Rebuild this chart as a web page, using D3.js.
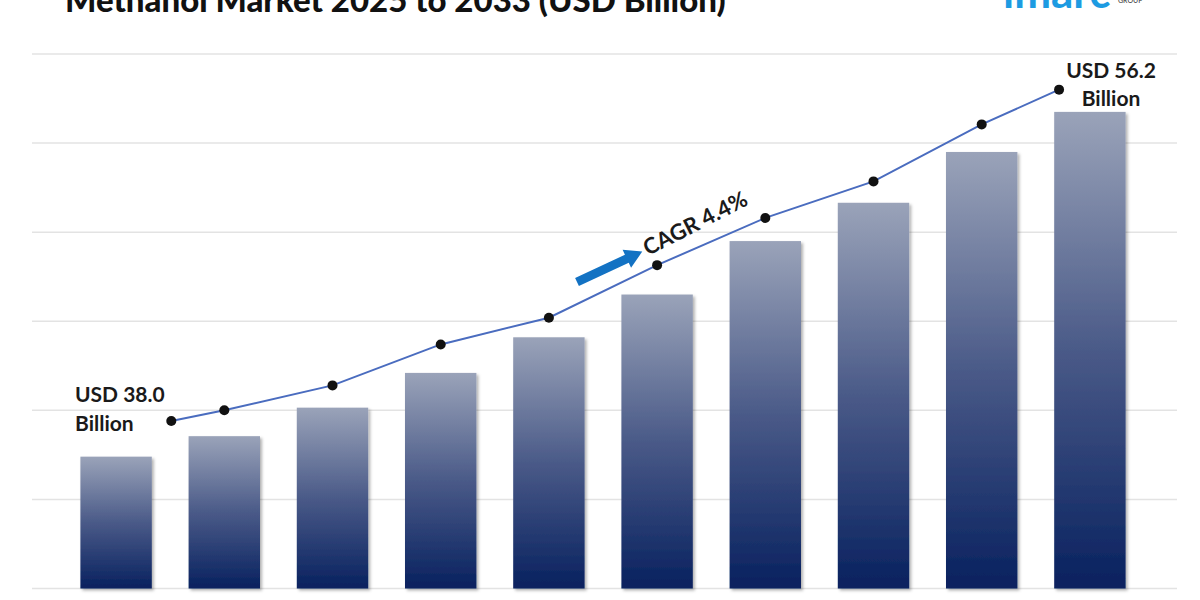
<!DOCTYPE html>
<html>
<head>
<meta charset="utf-8">
<script src="https://cdn.jsdelivr.net/npm/d3@7"></script>
<style>
  body { margin: 0; background: #fff; overflow: hidden; }
  svg { display: block; }
</style>
</head>
<body>
<div id="chart"></div>
<script>
const years = ["2024", "2025", "2026", "2027", "2028", "2029", "2030", "2031", "2032", "2033"];
const barValues = [14.8, 17.1, 20.3, 24.2, 28.2, 33.0, 39.0, 43.3, 49.0, 53.5];
const lineValues = [18.8, 20.0, 22.8, 27.4, 30.4, 36.3, 41.6, 45.7, 52.1, 56.0];
const gridTicks = [0, 10, 20, 30, 40, 50, 60];
const startText = ["USD 38.0", "Billion"];
const endText = ["USD 56.2", "Billion"];
const cagrText = "CAGR 4.4%";

const width = 1200,
  height = 600;

const svg = d3.select("#chart")
  .append("svg")
  .attr("width", width)
  .attr("height", height)
  .attr("viewBox", [0, 0, width, height]);

const defs = svg.append("defs");

const grad = defs.append("linearGradient")
  .attr("id", "barGrad")
  .attr("x1", 0).attr("y1", 0)
  .attr("x2", 0).attr("y2", 1);
grad.append("stop").attr("offset", "0%").attr("stop-color", "#9aa3b9");
grad.append("stop").attr("offset", "50%").attr("stop-color", "#4a5a88");
grad.append("stop").attr("offset", "100%").attr("stop-color", "#08215f");

defs.append("filter")
  .attr("id", "shadow")
  .attr("x", "-10%").attr("y", "-10%")
  .attr("width", "130%").attr("height", "130%")
  .append("feDropShadow")
  .attr("dx", 2).attr("dy", 2)
  .attr("stdDeviation", 1.5)
  .attr("flood-color", "#000")
  .attr("flood-opacity", 0.3);

const x = d3.scaleBand()
  .domain(years)
  .range([62, 1144])
  .paddingInner(0.34)
  .paddingOuter(0.17);

const y = d3.scaleLinear()
  .domain([0, 60])
  .range([588.5, 54]);

// gridlines
svg.append("g")
  .selectAll("line")
  .data(gridTicks)
  .join("line")
  .attr("x1", 32)
  .attr("x2", 1177)
  .attr("y1", d => y(d))
  .attr("y2", d => y(d))
  .attr("stroke", "#e3e3e3")
  .attr("stroke-width", 1.5);

// bars
svg.append("g")
  .selectAll("rect")
  .data(barValues)
  .join("rect")
  .attr("x", (d, i) => x(years[i]))
  .attr("y", d => y(d))
  .attr("width", x.bandwidth())
  .attr("height", d => y(0) - y(d))
  .attr("fill", "url(#barGrad)")
  .attr("filter", "url(#shadow)");

// year labels (mostly below the visible frame, as in the original)
svg.append("g")
  .selectAll("text")
  .data(years)
  .join("text")
  .attr("x", d => x(d) + x.bandwidth() / 2)
  .attr("y", 614)
  .attr("text-anchor", "middle")
  .attr("font-family", "Lato, sans-serif")
  .attr("font-weight", "bold")
  .attr("font-size", 18)
  .attr("fill", "#595959")
  .text(d => d);

// line: first and last points pulled inward like the original
const step = x.step();
const lineX = i => x(years[i]) + x.bandwidth() / 2 +
  (i === 0 ? 0.51 * step : i === years.length - 1 ? -0.285 * step : 0);

const line = d3.line()
  .x((d, i) => lineX(i))
  .y(d => y(d));

svg.append("path")
  .datum(lineValues)
  .attr("d", line)
  .attr("fill", "none")
  .attr("stroke", "#4a6cbf")
  .attr("stroke-width", 2);

svg.append("g")
  .selectAll("circle")
  .data(lineValues)
  .join("circle")
  .attr("cx", (d, i) => lineX(i))
  .attr("cy", d => y(d))
  .attr("r", 5)
  .attr("fill", "#111");

// value callouts
const labelFont = "Lato, 'Open Sans', sans-serif";

const startLabel = svg.append("text")
  .attr("font-family", labelFont)
  .attr("font-weight", "bold")
  .attr("font-size", 21)
  .attr("fill", "#1a1a1a");
startLabel.selectAll("tspan")
  .data(startText)
  .join("tspan")
  .attr("x", 75)
  .attr("y", (d, i) => 402 + i * 29)
  .text(d => d);

const endLabel = svg.append("text")
  .attr("font-family", labelFont)
  .attr("font-weight", "bold")
  .attr("font-size", 21)
  .attr("fill", "#1a1a1a")
  .attr("text-anchor", "middle");
endLabel.selectAll("tspan")
  .data(endText)
  .join("tspan")
  .attr("x", 1111)
  .attr("y", (d, i) => 78 + i * 28)
  .text(d => d);

// CAGR arrow + text
const cagr = svg.append("g")
  .attr("transform", "translate(577,282) rotate(-25)");

cagr.append("path")
  .attr("d", "M0,-4.5 L55,-4.5 L55,-10 L72,0 L55,10 L55,4.5 L0,4.5 Z")
  .attr("fill", "#1372c3");

svg.append("text")
  .attr("transform", "translate(648,256) rotate(-27)")
  .attr("font-family", labelFont)
  .attr("font-weight", "bold")
  .attr("font-size", 22)
  .attr("fill", "#1a1a1a")
  .text(cagrText);

// title (cut at top edge)
svg.append("text")
  .attr("x", 65)
  .attr("y", 12)
  .attr("font-family", "Lato, sans-serif")
  .attr("font-weight", 900)
  .attr("font-size", 33)
  .attr("fill", "#111")
  .text("Methanol Market 2025 to 2033 (USD Billion)");

// logo remnant
svg.append("text")
  .attr("x", 1003)
  .attr("y", 8)
  .attr("font-family", "Lato, sans-serif")
  .attr("font-weight", "bold")
  .attr("font-size", 44)
  .attr("fill", "#1d9be2")
  .text("imarc");

svg.append("text")
  .attr("x", 1118)
  .attr("y", 3)
  .attr("font-family", "Lato, sans-serif")
  .attr("font-size", 7)
  .attr("fill", "#333")
  .text("GROUP");
</script>
</body>
</html>
